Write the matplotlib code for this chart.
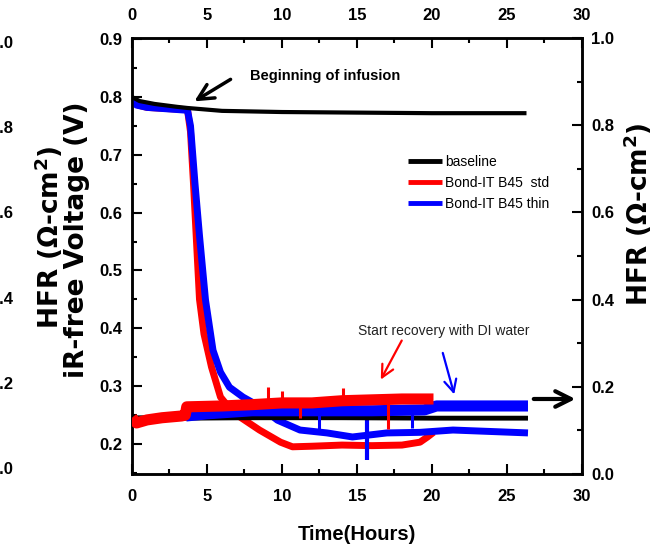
import matplotlib
matplotlib.use("Agg")
import matplotlib.pyplot as plt
from matplotlib.ticker import MultipleLocator

plt.rcParams['font.family'] = ['Liberation Sans', 'DejaVu Sans']
plt.rcParams['mathtext.fontset'] = 'dejavusans'
plt.rcParams['lines.solid_capstyle'] = 'butt'

# iR-free voltage (V), left axis
base_v_t = [0, 0.5, 1.5, 3.0, 3.7, 6, 10, 15, 20, 26.3]
base_v = [0.800, 0.793, 0.788, 0.783, 0.781, 0.776, 0.774, 0.773, 0.772, 0.772]

std_v_t = [0, 0.4, 1.0, 3.7, 3.9, 4.1, 4.3, 4.5, 4.8, 5.3, 5.9, 6.5, 7.0,
           8.5, 9.9, 10.7, 12, 14, 16, 18, 19.2, 19.7, 20.1]
std_v = [0.795, 0.786, 0.782, 0.778, 0.74, 0.65, 0.55, 0.45, 0.39, 0.333,
         0.281, 0.262, 0.250, 0.224, 0.203, 0.195, 0.196, 0.198, 0.197,
         0.198, 0.203, 0.212, 0.220]

thin_v_t = [0, 0.3, 1.0, 3.7, 3.9, 4.2, 4.5, 4.9, 5.4, 5.9, 6.5, 7.4, 8.5,
            9.7, 11.2, 13, 14.7, 17, 19.2, 21.4, 26.4]
thin_v = [0.795, 0.786, 0.782, 0.777, 0.75, 0.65, 0.56, 0.449, 0.362, 0.324,
          0.298, 0.281, 0.265, 0.241, 0.224, 0.219, 0.212, 0.219, 0.220,
          0.224, 0.219]

# HFR (ohm-cm2), right axis
base_hfr_t = [0, 3.6, 8, 14, 20, 26.4]
base_hfr = [0.129, 0.128, 0.129, 0.129, 0.128, 0.128]

std_hfr_t = [0, 0.3, 1, 2, 3.3, 3.55, 3.65, 6, 8, 10, 12, 14, 16, 18, 20.1]
std_hfr = [0.129, 0.117, 0.124, 0.129, 0.133, 0.135, 0.154, 0.156, 0.159,
           0.163, 0.163, 0.168, 0.170, 0.172, 0.172]

thin_hfr_t = [3.6, 5, 8, 12, 16, 19.5, 20.3, 23, 26.4]
thin_hfr = [0.133, 0.138, 0.145, 0.145, 0.145, 0.147, 0.156, 0.156, 0.156]

# spikes in the records (time, low, high)
std_spike_t = [3.5, 9.1, 10.0, 11.2, 14.1, 17.1]
std_spike_lo = [0.130, 0.160, 0.163, 0.129, 0.168, 0.103]
std_spike_hi = [0.145, 0.200, 0.190, 0.168, 0.197, 0.175]

thin_spike_t = [9.1, 12.5, 14.1, 18.7]
thin_spike_lo = [0.145, 0.094, 0.145, 0.106]
thin_spike_hi = [0.161, 0.145, 0.168, 0.140]

thin_v_spike_t = [15.7]
thin_v_spike_lo = [0.172]
thin_v_spike_hi = [0.245]

fig = plt.figure(figsize=(6.6, 5.47), dpi=100)
ax = fig.add_axes([0.2, 0.1335, 0.6818, 0.797])
ax2 = ax.twinx()

# voltage curves
l_std, = ax.plot(std_v_t, std_v, color='#ff0000', lw=5, zorder=2)
l_thin, = ax.plot(thin_v_t, thin_v, color='#0000ff', lw=5, zorder=3)
l_base, = ax.plot(base_v_t, base_v, color='black', lw=3, zorder=4)
ax.vlines(thin_v_spike_t, thin_v_spike_lo, thin_v_spike_hi, color='#0000ff', lw=3)

# HFR bands
ax2.plot(base_hfr_t, base_hfr, color='black', lw=3.5, zorder=2)
ax2.plot(thin_hfr_t, thin_hfr, color='#0000ff', lw=8, zorder=3)
ax2.plot(std_hfr_t, std_hfr, color='#ff0000', lw=8, zorder=4)
ax2.vlines(std_spike_t, std_spike_lo, std_spike_hi, color='#ff0000', lw=2.2, zorder=4)
ax2.vlines(thin_spike_t, thin_spike_lo, thin_spike_hi, color='#0000ff', lw=2.2, zorder=3)

ax.set_xlim(0, 30)
ax.set_ylim(0.148, 0.902)
ax2.set_ylim(0, 1.0)

ax.xaxis.set_major_locator(MultipleLocator(5))
ax.xaxis.set_minor_locator(MultipleLocator(2.5))
ax.yaxis.set_major_locator(MultipleLocator(0.1))
ax.yaxis.set_minor_locator(MultipleLocator(0.05))
ax2.yaxis.set_major_locator(MultipleLocator(0.2))
ax2.yaxis.set_minor_locator(MultipleLocator(0.1))

ax.tick_params(axis='x', which='both', direction='in', top=True, labeltop=True,
               bottom=True, labelbottom=True)
ax.tick_params(axis='x', which='major', length=7, width=1.5, labelsize=12, pad=11)
ax.tick_params(axis='x', which='minor', length=3.5, width=1.5)
ax.tick_params(axis='y', which='major', direction='in', length=7, width=1.5,
               labelsize=12, pad=7)
ax.tick_params(axis='y', which='minor', direction='in', length=3.5, width=1.5)
ax2.tick_params(axis='y', which='major', direction='in', length=7, width=1.5,
                labelsize=12, pad=6.5)
ax2.tick_params(axis='y', which='minor', direction='in', length=3.5, width=1.5)
for a in (ax, ax2):
    for s in a.spines.values():
        s.set_linewidth(1.8)
    for lab in a.get_xticklabels() + a.get_yticklabels():
        lab.set_fontweight('bold')
ax.yaxis.set_major_formatter(matplotlib.ticker.FormatStrFormatter('%.1f'))
ax2.yaxis.set_major_formatter(matplotlib.ticker.FormatStrFormatter('%.1f'))

# extra HFR scale cut off at the left edge (as in the source figure)
ax3 = fig.add_axes([13 / 660, 0.1335, 0.001, 0.797])
ax3.set_frame_on(False)
ax3.set_ylim(-0.014, 1.009)
ax3.set_xticks([])
ax3.yaxis.set_major_locator(MultipleLocator(0.2))
ax3.yaxis.set_major_formatter(matplotlib.ticker.FormatStrFormatter('%.1f'))
ax3.tick_params(axis='y', length=0, pad=0, labelsize=12)
for lab in ax3.get_yticklabels():
    lab.set_fontweight('bold')

# axis titles
lab_font = dict(family=['DejaVu Sans'], fontsize=19, fontweight='bold',
                rotation=90, ha='center', va='center')
fig.text(49 / 660, 1 - 237 / 547, 'HFR (Ω-cm$^{\\mathbf{2}}$)', **lab_font)
fig.text(77 / 660, 1 - 240 / 547, 'iR-free Voltage (V)', **lab_font)
fig.text(638 / 660, 1 - 214 / 547, 'HFR (Ω-cm$^{\\mathbf{2}}$)', **lab_font)
fig.text(357 / 660, 1 - 534 / 547, 'Time(Hours)', fontsize=14.5, fontweight='bold',
         ha='center', va='center')

# annotations
ax.annotate('', xy=(4.0, 0.790), xytext=(6.73, 0.833),
            arrowprops=dict(arrowstyle='->', lw=2.5, color='black', mutation_scale=28))
ax.text(7.9, 0.836, 'Beginning of infusion', fontsize=10.5, fontweight='bold',
        ha='left', va='center')
ax.text(15.07, 0.395, 'Start recovery with DI water', fontsize=10,
        ha='left', va='center', color='#222222')
ax.annotate('', xy=(16.5, 0.307), xytext=(18.07, 0.383),
            arrowprops=dict(arrowstyle='->', lw=1.6, color='#ff0000', mutation_scale=22))
ax.annotate('', xy=(21.53, 0.281), xytext=(20.67, 0.362),
            arrowprops=dict(arrowstyle='->', lw=1.6, color='#0000ff', mutation_scale=22))
ax2.annotate('', xy=(29.75, 0.172), xytext=(26.6, 0.172),
             arrowprops=dict(arrowstyle='->', lw=3, color='black', mutation_scale=28))

# legend
leg = ax2.legend([l_base, l_std, l_thin],
                 ['baseline', 'Bond-IT B45  std', 'Bond-IT B45 thin'],
                 loc='upper left', bbox_to_anchor=(408 / 660, 1 - 155 / 547),
                 bbox_transform=fig.transFigure, frameon=False, fontsize=10,
                 handlelength=2.45, handletextpad=0.2, labelspacing=0.5,
                 borderpad=0, borderaxespad=0)
for h in leg.get_lines():
    h.set_linewidth(3.5)

fig.savefig('out.png', dpi=100)
